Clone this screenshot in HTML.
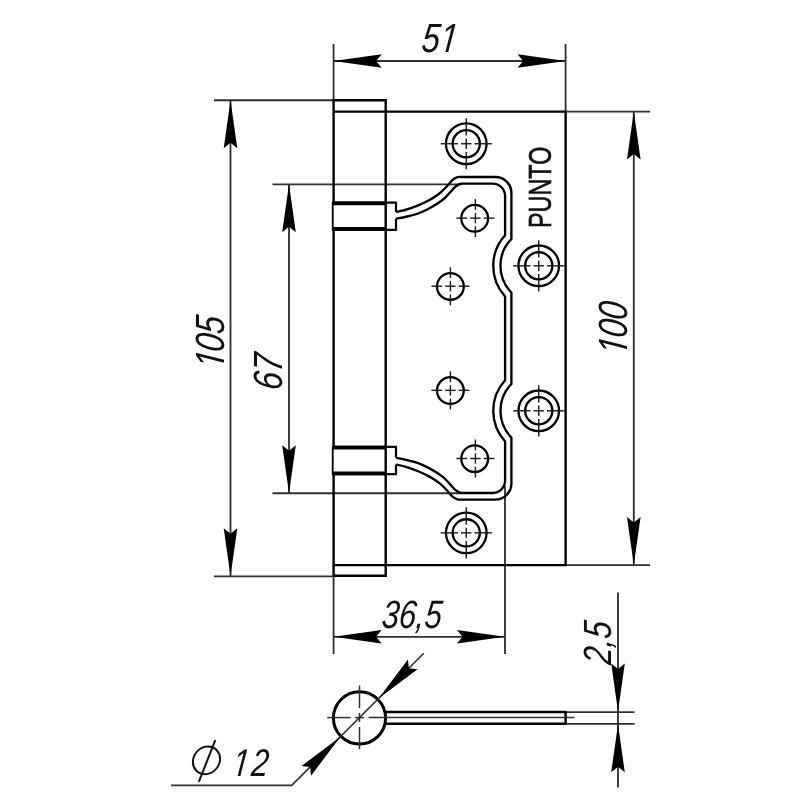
<!DOCTYPE html>
<html><head><meta charset="utf-8"><title>PUNTO hinge drawing</title>
<style>
html,body{margin:0;padding:0;background:#fff;}
svg{display:block;will-change:transform;}
text{font-family:"Liberation Sans",sans-serif;fill:#111;}
</style></head><body>
<svg width="800" height="800" viewBox="0 0 800 800">
<rect width="800" height="800" fill="#fff"/>
<line x1="333.60" y1="44.00" x2="333.60" y2="100.20" stroke="#303030" stroke-width="1.85"/>
<line x1="565.60" y1="44.00" x2="565.60" y2="111.60" stroke="#303030" stroke-width="1.85"/>
<line x1="333.60" y1="61.00" x2="565.60" y2="61.00" stroke="#303030" stroke-width="1.85"/>
<line x1="214.00" y1="100.20" x2="333.60" y2="100.20" stroke="#303030" stroke-width="1.85"/>
<line x1="214.00" y1="576.30" x2="333.60" y2="576.30" stroke="#303030" stroke-width="1.85"/>
<line x1="230.50" y1="100.20" x2="230.50" y2="576.30" stroke="#303030" stroke-width="1.85"/>
<line x1="272.50" y1="184.30" x2="462.00" y2="184.30" stroke="#303030" stroke-width="1.85"/>
<line x1="272.50" y1="493.20" x2="462.00" y2="493.20" stroke="#303030" stroke-width="1.85"/>
<line x1="289.00" y1="184.30" x2="289.00" y2="493.20" stroke="#303030" stroke-width="1.85"/>
<line x1="565.60" y1="111.60" x2="650.00" y2="111.60" stroke="#303030" stroke-width="1.85"/>
<line x1="565.60" y1="565.10" x2="650.00" y2="565.10" stroke="#303030" stroke-width="1.85"/>
<line x1="633.80" y1="111.60" x2="633.80" y2="565.10" stroke="#303030" stroke-width="1.85"/>
<line x1="333.60" y1="575.80" x2="333.60" y2="654.00" stroke="#303030" stroke-width="1.85"/>
<line x1="505.00" y1="486.00" x2="505.00" y2="654.00" stroke="#303030" stroke-width="1.85"/>
<line x1="333.60" y1="636.80" x2="505.00" y2="636.80" stroke="#303030" stroke-width="1.85"/>
<line x1="618.00" y1="592.50" x2="618.00" y2="787.50" stroke="#303030" stroke-width="1.85"/>
<line x1="566.00" y1="712.10" x2="634.50" y2="712.10" stroke="#303030" stroke-width="1.85"/>
<line x1="566.00" y1="723.80" x2="634.50" y2="723.80" stroke="#303030" stroke-width="1.85"/>
<polygon points="0,0 -48.00,-6.80 -42.50,0 -48.00,6.80" fill="#000" transform="translate(333.60,61.00) rotate(180.00)"/>
<polygon points="0,0 -48.00,-6.80 -42.50,0 -48.00,6.80" fill="#000" transform="translate(565.60,61.00) rotate(0.00)"/>
<polygon points="0,0 -48.00,-6.80 -42.50,0 -48.00,6.80" fill="#000" transform="translate(230.50,100.20) rotate(-90.00)"/>
<polygon points="0,0 -48.00,-6.80 -42.50,0 -48.00,6.80" fill="#000" transform="translate(230.50,576.30) rotate(90.00)"/>
<polygon points="0,0 -48.00,-6.80 -42.50,0 -48.00,6.80" fill="#000" transform="translate(289.00,184.30) rotate(-90.00)"/>
<polygon points="0,0 -48.00,-6.80 -42.50,0 -48.00,6.80" fill="#000" transform="translate(289.00,493.20) rotate(90.00)"/>
<polygon points="0,0 -48.00,-6.80 -42.50,0 -48.00,6.80" fill="#000" transform="translate(633.80,111.60) rotate(-90.00)"/>
<polygon points="0,0 -48.00,-6.80 -42.50,0 -48.00,6.80" fill="#000" transform="translate(633.80,565.10) rotate(90.00)"/>
<polygon points="0,0 -48.00,-6.80 -42.50,0 -48.00,6.80" fill="#000" transform="translate(333.60,636.80) rotate(180.00)"/>
<polygon points="0,0 -48.00,-6.80 -42.50,0 -48.00,6.80" fill="#000" transform="translate(505.00,636.80) rotate(0.00)"/>
<polygon points="0,0 -48.00,-6.80 -42.50,0 -48.00,6.80" fill="#000" transform="translate(618.00,711.60) rotate(90.00)"/>
<polygon points="0,0 -48.00,-6.80 -42.50,0 -48.00,6.80" fill="#000" transform="translate(618.00,724.30) rotate(-90.00)"/>
<path d="M333.60,202.6 V100.20 H385.70 V575.80 H333.60 V474.1 M333.60,229.8 V446.9" fill="none" stroke="#000" stroke-width="2.40" />
<path d="M333.60,111.60 H565.60 V565.10 H333.60" fill="none" stroke="#000" stroke-width="2.40" />
<path d="M332.4,202.60 H396 V212.00 M396,218.80 V229.80 H332.4" fill="none" stroke="#000" stroke-width="2.20" />
<line x1="332.40" y1="203.40" x2="385.70" y2="203.40" stroke="#000" stroke-width="3.80"/>
<line x1="332.40" y1="229.00" x2="385.70" y2="229.00" stroke="#000" stroke-width="3.80"/>
<line x1="332.70" y1="202.60" x2="332.70" y2="229.80" stroke="#000" stroke-width="1.80"/>
<path d="M332.4,446.90 H396 V457.80 M396,464.60 V474.10 H332.4" fill="none" stroke="#000" stroke-width="2.20" />
<line x1="332.40" y1="447.70" x2="385.70" y2="447.70" stroke="#000" stroke-width="3.80"/>
<line x1="332.40" y1="473.30" x2="385.70" y2="473.30" stroke="#000" stroke-width="3.80"/>
<line x1="332.70" y1="446.90" x2="332.70" y2="474.10" stroke="#000" stroke-width="1.80"/>
<path d="M396.00,212.00 C397.50,211.67 401.42,211.07 405.00,210.00 C408.58,208.93 413.33,207.31 417.50,205.60 C421.67,203.89 426.25,201.85 430.00,199.75 C433.75,197.65 437.08,195.36 440.00,193.00 C442.92,190.64 445.42,187.77 447.50,185.60 C449.58,183.43 450.83,181.40 452.50,180.00 C454.17,178.60 455.92,177.70 457.50,177.20 C459.08,176.70 461.25,177.03 462.00,177.00 H495.40 A16.00,16.00 0 0 1 511.40,193.00 V238.99 A38.30,38.30 0 0 0 511.40,292.61 V383.99 A38.30,38.30 0 0 0 511.40,437.61 V483.60 A16.00,16.00 0 0 1 495.40,499.60 H462.00L462.00,499.60 C461.25,499.57 459.08,499.90 457.50,499.40 C455.92,498.90 454.17,498.00 452.50,496.60 C450.83,495.20 449.58,493.17 447.50,491.00 C445.42,488.83 442.92,485.96 440.00,483.60 C437.08,481.24 433.75,478.95 430.00,476.85 C426.25,474.75 421.67,472.71 417.50,471.00 C413.33,469.29 408.58,467.67 405.00,466.60 C401.42,465.53 397.50,464.93 396.00,464.60" fill="none" stroke="#000" stroke-width="2.35" stroke-linejoin="round"/>
<path d="M396.00,218.75 C397.50,218.46 401.42,217.83 405.00,217.00 C408.58,216.17 413.33,215.25 417.50,213.75 C421.67,212.25 425.83,210.29 430.00,208.00 C434.17,205.71 439.17,202.58 442.50,200.00 C445.83,197.42 447.92,194.67 450.00,192.50 C452.08,190.33 453.33,188.43 455.00,187.00 C456.67,185.57 458.50,184.47 460.00,183.90 C461.50,183.33 463.33,183.65 464.00,183.60 H492.60 A12.50,12.50 0 0 1 505.10,196.10 V235.17 A45.50,45.50 0 0 0 505.10,296.43 V380.17 A45.50,45.50 0 0 0 505.10,441.43 V480.50 A12.50,12.50 0 0 1 492.60,493.00 H464.00L464.00,493.00 C463.33,492.95 461.50,493.27 460.00,492.70 C458.50,492.13 456.67,491.03 455.00,489.60 C453.33,488.17 452.08,486.27 450.00,484.10 C447.92,481.93 445.83,479.18 442.50,476.60 C439.17,474.02 434.17,470.89 430.00,468.60 C425.83,466.31 421.67,464.35 417.50,462.85 C413.33,461.35 408.58,460.43 405.00,459.60 C401.42,458.77 397.50,458.14 396.00,457.85" fill="none" stroke="#000" stroke-width="2.35" stroke-linejoin="round"/>
<circle cx="466.25" cy="143.75" r="20.30" fill="none" stroke="#000" stroke-width="2.30"/>
<circle cx="466.25" cy="143.75" r="13.60" fill="none" stroke="#000" stroke-width="2.30"/>
<line x1="440.65" y1="143.75" x2="458.05" y2="143.75" stroke="#181818" stroke-width="1.40"/>
<line x1="461.05" y1="143.75" x2="471.45" y2="143.75" stroke="#181818" stroke-width="1.40"/>
<line x1="474.45" y1="143.75" x2="491.85" y2="143.75" stroke="#181818" stroke-width="1.40"/>
<line x1="466.25" y1="118.15" x2="466.25" y2="135.55" stroke="#181818" stroke-width="1.40"/>
<line x1="466.25" y1="138.55" x2="466.25" y2="148.95" stroke="#181818" stroke-width="1.40"/>
<line x1="466.25" y1="151.95" x2="466.25" y2="169.35" stroke="#181818" stroke-width="1.40"/>
<circle cx="538.75" cy="265.80" r="20.30" fill="none" stroke="#000" stroke-width="2.30"/>
<circle cx="538.75" cy="265.80" r="13.60" fill="none" stroke="#000" stroke-width="2.30"/>
<line x1="513.15" y1="265.80" x2="530.55" y2="265.80" stroke="#181818" stroke-width="1.40"/>
<line x1="533.55" y1="265.80" x2="543.95" y2="265.80" stroke="#181818" stroke-width="1.40"/>
<line x1="546.95" y1="265.80" x2="564.35" y2="265.80" stroke="#181818" stroke-width="1.40"/>
<line x1="538.75" y1="240.20" x2="538.75" y2="257.60" stroke="#181818" stroke-width="1.40"/>
<line x1="538.75" y1="260.60" x2="538.75" y2="271.00" stroke="#181818" stroke-width="1.40"/>
<line x1="538.75" y1="274.00" x2="538.75" y2="291.40" stroke="#181818" stroke-width="1.40"/>
<circle cx="538.75" cy="410.80" r="20.30" fill="none" stroke="#000" stroke-width="2.30"/>
<circle cx="538.75" cy="410.80" r="13.60" fill="none" stroke="#000" stroke-width="2.30"/>
<line x1="513.15" y1="410.80" x2="530.55" y2="410.80" stroke="#181818" stroke-width="1.40"/>
<line x1="533.55" y1="410.80" x2="543.95" y2="410.80" stroke="#181818" stroke-width="1.40"/>
<line x1="546.95" y1="410.80" x2="564.35" y2="410.80" stroke="#181818" stroke-width="1.40"/>
<line x1="538.75" y1="385.20" x2="538.75" y2="402.60" stroke="#181818" stroke-width="1.40"/>
<line x1="538.75" y1="405.60" x2="538.75" y2="416.00" stroke="#181818" stroke-width="1.40"/>
<line x1="538.75" y1="419.00" x2="538.75" y2="436.40" stroke="#181818" stroke-width="1.40"/>
<circle cx="466.25" cy="532.85" r="20.30" fill="none" stroke="#000" stroke-width="2.30"/>
<circle cx="466.25" cy="532.85" r="13.60" fill="none" stroke="#000" stroke-width="2.30"/>
<line x1="440.65" y1="532.85" x2="458.05" y2="532.85" stroke="#181818" stroke-width="1.40"/>
<line x1="461.05" y1="532.85" x2="471.45" y2="532.85" stroke="#181818" stroke-width="1.40"/>
<line x1="474.45" y1="532.85" x2="491.85" y2="532.85" stroke="#181818" stroke-width="1.40"/>
<line x1="466.25" y1="507.25" x2="466.25" y2="524.65" stroke="#181818" stroke-width="1.40"/>
<line x1="466.25" y1="527.65" x2="466.25" y2="538.05" stroke="#181818" stroke-width="1.40"/>
<line x1="466.25" y1="541.05" x2="466.25" y2="558.45" stroke="#181818" stroke-width="1.40"/>
<circle cx="474.70" cy="218.30" r="13.40" fill="none" stroke="#000" stroke-width="2.30"/>
<line x1="456.40" y1="218.10" x2="467.20" y2="218.10" stroke="#181818" stroke-width="1.40"/>
<line x1="470.20" y1="218.10" x2="480.60" y2="218.10" stroke="#181818" stroke-width="1.40"/>
<line x1="483.60" y1="218.10" x2="494.40" y2="218.10" stroke="#181818" stroke-width="1.40"/>
<line x1="475.40" y1="199.10" x2="475.40" y2="209.90" stroke="#181818" stroke-width="1.40"/>
<line x1="475.40" y1="212.90" x2="475.40" y2="223.30" stroke="#181818" stroke-width="1.40"/>
<line x1="475.40" y1="226.30" x2="475.40" y2="237.10" stroke="#181818" stroke-width="1.40"/>
<circle cx="450.40" cy="286.45" r="13.40" fill="none" stroke="#000" stroke-width="2.30"/>
<line x1="431.40" y1="286.25" x2="442.20" y2="286.25" stroke="#181818" stroke-width="1.40"/>
<line x1="445.20" y1="286.25" x2="455.60" y2="286.25" stroke="#181818" stroke-width="1.40"/>
<line x1="458.60" y1="286.25" x2="469.40" y2="286.25" stroke="#181818" stroke-width="1.40"/>
<line x1="450.40" y1="267.25" x2="450.40" y2="278.05" stroke="#181818" stroke-width="1.40"/>
<line x1="450.40" y1="281.05" x2="450.40" y2="291.45" stroke="#181818" stroke-width="1.40"/>
<line x1="450.40" y1="294.45" x2="450.40" y2="305.25" stroke="#181818" stroke-width="1.40"/>
<circle cx="450.40" cy="390.55" r="13.40" fill="none" stroke="#000" stroke-width="2.30"/>
<line x1="431.40" y1="390.35" x2="442.20" y2="390.35" stroke="#181818" stroke-width="1.40"/>
<line x1="445.20" y1="390.35" x2="455.60" y2="390.35" stroke="#181818" stroke-width="1.40"/>
<line x1="458.60" y1="390.35" x2="469.40" y2="390.35" stroke="#181818" stroke-width="1.40"/>
<line x1="450.40" y1="371.35" x2="450.40" y2="382.15" stroke="#181818" stroke-width="1.40"/>
<line x1="450.40" y1="385.15" x2="450.40" y2="395.55" stroke="#181818" stroke-width="1.40"/>
<line x1="450.40" y1="398.55" x2="450.40" y2="409.35" stroke="#181818" stroke-width="1.40"/>
<circle cx="474.70" cy="458.70" r="13.40" fill="none" stroke="#000" stroke-width="2.30"/>
<line x1="456.40" y1="458.50" x2="467.20" y2="458.50" stroke="#181818" stroke-width="1.40"/>
<line x1="470.20" y1="458.50" x2="480.60" y2="458.50" stroke="#181818" stroke-width="1.40"/>
<line x1="483.60" y1="458.50" x2="494.40" y2="458.50" stroke="#181818" stroke-width="1.40"/>
<line x1="475.40" y1="439.50" x2="475.40" y2="450.30" stroke="#181818" stroke-width="1.40"/>
<line x1="475.40" y1="453.30" x2="475.40" y2="463.70" stroke="#181818" stroke-width="1.40"/>
<line x1="475.40" y1="466.70" x2="475.40" y2="477.50" stroke="#181818" stroke-width="1.40"/>
<circle cx="359.50" cy="717.90" r="26.10" fill="none" stroke="#000" stroke-width="3.00"/>
<line x1="386.00" y1="712.10" x2="565.60" y2="712.10" stroke="#000" stroke-width="2.50"/>
<line x1="386.00" y1="723.80" x2="565.60" y2="723.80" stroke="#000" stroke-width="2.50"/>
<line x1="565.60" y1="711.00" x2="565.60" y2="725.00" stroke="#000" stroke-width="2.50"/>
<line x1="327.30" y1="717.60" x2="350.50" y2="717.60" stroke="#303030" stroke-width="1.50"/>
<line x1="355.00" y1="717.60" x2="364.00" y2="717.60" stroke="#303030" stroke-width="1.50"/>
<line x1="368.50" y1="717.60" x2="574.50" y2="717.60" stroke="#303030" stroke-width="1.50"/>
<line x1="359.50" y1="685.50" x2="359.50" y2="708.00" stroke="#303030" stroke-width="1.50"/>
<line x1="359.50" y1="713.00" x2="359.50" y2="722.00" stroke="#303030" stroke-width="1.50"/>
<line x1="359.50" y1="727.00" x2="359.50" y2="749.30" stroke="#303030" stroke-width="1.50"/>
<path d="M423.8,653.30 L291.70,785.4 H171" fill="none" stroke="#303030" stroke-width="1.60" />
<polygon points="0,0 -48.00,-6.80 -42.50,0 -48.00,6.80" fill="#000" transform="translate(378.80,698.30) rotate(135.00)"/>
<polygon points="0,0 -48.00,-6.80 -42.50,0 -48.00,6.80" fill="#000" transform="translate(340.20,736.90) rotate(-45.00)"/>
<clipPath id="cpt51"><path clip-rule="evenodd" d="M-40.8,-49.0 H163.3 V20.4 H-40.8 Z M21.91,1.40 L30.65,1.40 L31.56,-3.27 L21.91,-3.27 Z M34.26,1.40 L42.84,1.40 L42.84,-3.27 L35.16,-3.27 Z"/></clipPath><text transform="translate(420.70,52.00) rotate(0) skewX(-6.0) scale(0.7984,1)" font-size="40.82" style="font-style:italic;" clip-path="url(#cpt51)">51</text>
<clipPath id="cpt105"><path clip-rule="evenodd" d="M-40.8,-48.9 H163.2 V20.4 H-40.8 Z M-0.80,1.39 L7.94,1.39 L8.85,-3.27 L-0.80,-3.27 Z M11.54,1.39 L20.12,1.39 L20.12,-3.27 L12.45,-3.27 Z"/></clipPath><text transform="translate(224.25,369.25) rotate(-90) skewX(-6.0) scale(0.7900,1)" font-size="40.79" style="font-style:italic;" clip-path="url(#cpt105)">1<tspan dx="-1.90">05</tspan></text>
<text transform="translate(282.00,391.00) rotate(-90) skewX(-6.0) scale(0.8007,1)" font-size="40.79" style="font-style:italic;">67</text>
<clipPath id="cpt100"><path clip-rule="evenodd" d="M-40.8,-48.9 H163.2 V20.4 H-40.8 Z M-0.80,1.39 L7.94,1.39 L8.85,-3.27 L-0.80,-3.27 Z M11.54,1.39 L20.12,1.39 L20.12,-3.27 L12.45,-3.27 Z"/></clipPath><text transform="translate(626.50,355.50) rotate(-90) skewX(-6.0) scale(0.7900,1)" font-size="40.79" style="font-style:italic;" clip-path="url(#cpt100)">1<tspan dx="-1.27">00</tspan></text>
<text transform="translate(380.90,628.25) rotate(0) skewX(-6.0) scale(0.7786,1)" font-size="39.50" style="font-style:italic;">36,5</text>
<text transform="translate(611.00,665.25) rotate(-90) skewX(-6.0) scale(0.7857,1)" font-size="39.36" style="font-style:italic;">2,5</text>
<clipPath id="cpt12"><path clip-rule="evenodd" d="M-38.6,-46.4 H154.6 V19.3 H-38.6 Z M-0.75,1.32 L7.52,1.32 L8.38,-3.09 L-0.75,-3.09 Z M10.94,1.32 L19.06,1.32 L19.06,-3.09 L11.80,-3.09 Z"/></clipPath><text transform="translate(231.50,776.20) rotate(0) skewX(-6.0) scale(0.7900,1)" font-size="38.64" style="font-style:italic;" clip-path="url(#cpt12)">1<tspan dx="2.53">2</tspan></text>
<text transform="translate(551.20,228.00) rotate(-90) skewX(0.0) scale(0.7261,1)" font-size="32.20" style="stroke:#111;stroke-width:0.7px;">PUNTO</text>
<ellipse cx="0" cy="0" rx="13.5" ry="13.8" fill="none" stroke="#111" stroke-width="2" transform="translate(206.5,760.4) skewX(-6)"/>
<line x1="198.80" y1="781.80" x2="215.30" y2="740.20" stroke="#111" stroke-width="2.00"/>
</svg>
</body></html>
